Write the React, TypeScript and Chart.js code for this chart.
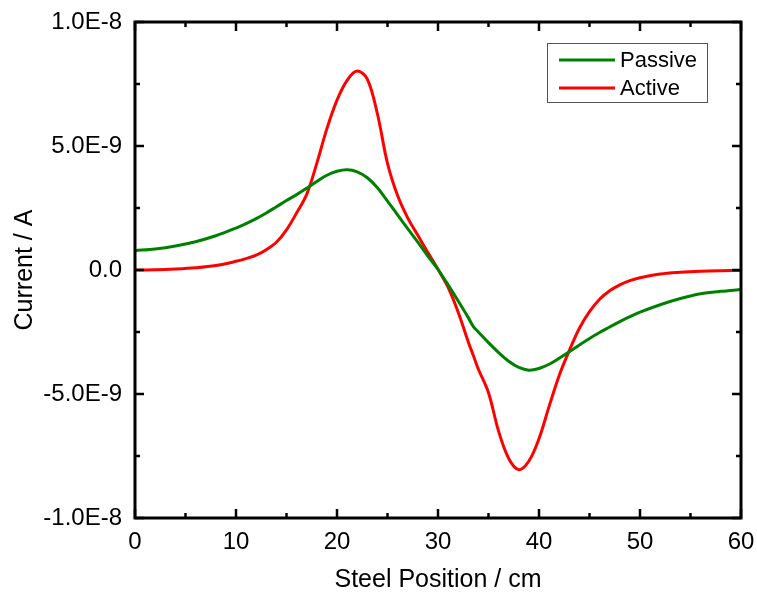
import React, { useEffect, useRef } from "react";
import { Chart, registerables } from "chart.js";

Chart.register(...registerables);

// Steel position (cm)
const positions = [
  0, 2, 4, 6, 8, 10, 11, 12, 13, 14, 15, 16, 17, 18, 19, 20, 21, 22, 23, 24, 25,
  26, 27, 28, 29, 30, 31, 32, 33, 33.5, 34, 35, 36, 37, 38, 39, 40, 41, 42, 43,
  44, 45, 46, 47, 48, 49, 50, 52, 54, 56, 58, 60,
];

// Current, in units of 1E-9 A
const passiveNanoA = [
  0.78, 0.85, 0.97, 1.14, 1.38, 1.69, 1.87, 2.07, 2.3, 2.55, 2.8, 3.04, 3.3,
  3.57, 3.82, 3.98, 4.04, 3.96, 3.72, 3.32, 2.78, 2.22, 1.67, 1.12, 0.56, 0.02,
  -0.6, -1.25, -1.92, -2.28, -2.5, -2.93, -3.33, -3.68, -3.93, -4.04, -3.97,
  -3.8, -3.56, -3.3, -3.02, -2.76, -2.52, -2.3, -2.08, -1.88, -1.7, -1.4,
  -1.15, -0.96, -0.86, -0.79,
];

const activeNanoA = [
  0, 0.01, 0.04, 0.09, 0.18, 0.35, 0.46, 0.6, 0.82, 1.12, 1.62, 2.3, 3.05, 4.3,
  5.7, 6.85, 7.65, 8.02, 7.7, 6.3, 4.3, 3.0, 2.1, 1.4, 0.7, 0.03, -0.7, -1.7,
  -2.9, -3.45, -4.0, -4.95, -6.5, -7.6, -8.05, -7.7, -6.8, -5.5, -4.25, -3.25,
  -2.35, -1.68, -1.18, -0.84, -0.6, -0.43, -0.31, -0.16, -0.09, -0.05, -0.03,
  -0.02,
];

const seriesLabels = ["Passive", "Active"];
const seriesColors = ["#008000", "#ff0000"];
const NANO = 1e-9;

const xTitle = "Steel Position / cm";
const yTitle = "Current / A";

const FONT = "'Liberation Sans', Arial, Helvetica, sans-serif";

function formatY(v: number): string {
  if (Math.abs(v) < 1e-15) return "0.0";
  return v.toExponential(1).replace("e", "E").replace("+", "");
}

const framePlugin = {
  id: "frameTicks",
  afterDatasetsDraw(chart: any) {
    const { ctx, chartArea: a, scales } = chart;
    const xs = scales.x;
    const ys = scales.y;
    ctx.save();
    ctx.strokeStyle = "#000";
    ctx.lineCap = "butt";
    const seg = (x1: number, y1: number, x2: number, y2: number) => {
      ctx.beginPath();
      ctx.moveTo(x1, y1);
      ctx.lineTo(x2, y2);
      ctx.stroke();
    };
    ctx.lineWidth = 2.5;
    const xMajor = xs.ticks.map((t: any) => t.value);
    const yMajor = ys.ticks.map((t: any) => t.value);
    const mids = (arr: number[]) =>
      arr.slice(0, -1).map((v, i) => (v + arr[i + 1]) / 2);
    const MAJ = 9;
    const MIN = 5;
    xMajor.forEach((v: number) => {
      const p = xs.getPixelForValue(v);
      seg(p, a.bottom, p, a.bottom - MAJ);
      seg(p, a.top, p, a.top + MAJ);
    });
    mids(xMajor).forEach((v: number) => {
      const p = xs.getPixelForValue(v);
      seg(p, a.bottom, p, a.bottom - MIN);
      seg(p, a.top, p, a.top + MIN);
    });
    yMajor.forEach((v: number) => {
      const p = ys.getPixelForValue(v);
      seg(a.left, p, a.left + MAJ, p);
      seg(a.right, p, a.right - MAJ, p);
    });
    mids(yMajor).forEach((v: number) => {
      const p = ys.getPixelForValue(v);
      seg(a.left, p, a.left + MIN, p);
      seg(a.right, p, a.right - MIN, p);
    });
    ctx.lineWidth = 3;
    ctx.strokeRect(a.left, a.top, a.right - a.left, a.bottom - a.top);

    // legend box
    const bx = a.right - 194;
    const by = a.top + 21;
    const bw = 160;
    const bh = 59;
    ctx.lineWidth = 1;
    ctx.strokeStyle = "#555";
    ctx.strokeRect(bx + 0.5, by + 0.5, bw, bh);
    ctx.font = `22px ${FONT}`;
    ctx.textBaseline = "middle";
    ctx.textAlign = "left";
    chart.data.datasets.forEach((ds: any, i: number) => {
      const yy = by + 17 + i * 28;
      ctx.strokeStyle = ds.borderColor;
      ctx.lineWidth = 3;
      seg(bx + 12, yy, bx + 68, yy);
      ctx.fillStyle = "#000";
      ctx.fillText(ds.label, bx + 73, yy + 1);
    });
    ctx.restore();
  },
};

export default function App() {
  const ref = useRef<HTMLCanvasElement | null>(null);

  useEffect(() => {
    if (!ref.current) return;
    const chart = new Chart(ref.current, {
      type: "line",
      data: {
        datasets: [passiveNanoA, activeNanoA].map((vals, i) => ({
          label: seriesLabels[i],
          data: positions.map((x, j) => ({ x, y: vals[j] * NANO })),
          borderColor: seriesColors[i],
          backgroundColor: seriesColors[i],
          borderWidth: 3,
          pointRadius: 0,
          tension: 0.35,
          fill: false,
        })),
      },
      options: {
        responsive: false,
        animation: false,
        devicePixelRatio: 1,
        layout: { padding: { top: 22, right: 16, left: 0, bottom: 0 } },
        plugins: {
          legend: { display: false },
          tooltip: { enabled: false },
        },
        scales: {
          x: {
            type: "linear",
            min: 0,
            max: 60,
            grid: { display: false, drawTicks: false },
            border: { display: false },
            ticks: {
              stepSize: 10,
              padding: 10,
              color: "#000",
              font: { family: FONT, size: 24 },
              maxRotation: 0,
            },
            title: {
              display: true,
              text: xTitle,
              color: "#000",
              font: { family: FONT, size: 25 },
              padding: { top: 0, bottom: 0 },
            },
            afterFit(scale: any) {
              scale.height = 77;
              scale.paddingLeft = 0;
              scale.paddingRight = 0;
            },
          },
          y: {
            type: "linear",
            min: -1e-8,
            max: 1e-8,
            grid: { display: false, drawTicks: false },
            border: { display: false },
            ticks: {
              stepSize: 5e-9,
              padding: 13,
              color: "#000",
              font: { family: FONT, size: 24 },
              callback: (v: any) => formatY(Number(v)),
            },
            title: {
              display: true,
              text: yTitle,
              color: "#000",
              font: { family: FONT, size: 25 },
              padding: { top: 10, bottom: 0 },
            },
            afterFit(scale: any) {
              scale.width = 135;
              scale.paddingTop = 0;
              scale.paddingBottom = 0;
            },
          },
        },
      },
      plugins: [framePlugin],
    });
    return () => chart.destroy();
  }, []);

  return (
    <div style={{ position: "absolute", left: 0, top: 0, width: 757, height: 595, background: "#fff" }}>
      <canvas ref={ref} width={757} height={595} />
    </div>
  );
}
